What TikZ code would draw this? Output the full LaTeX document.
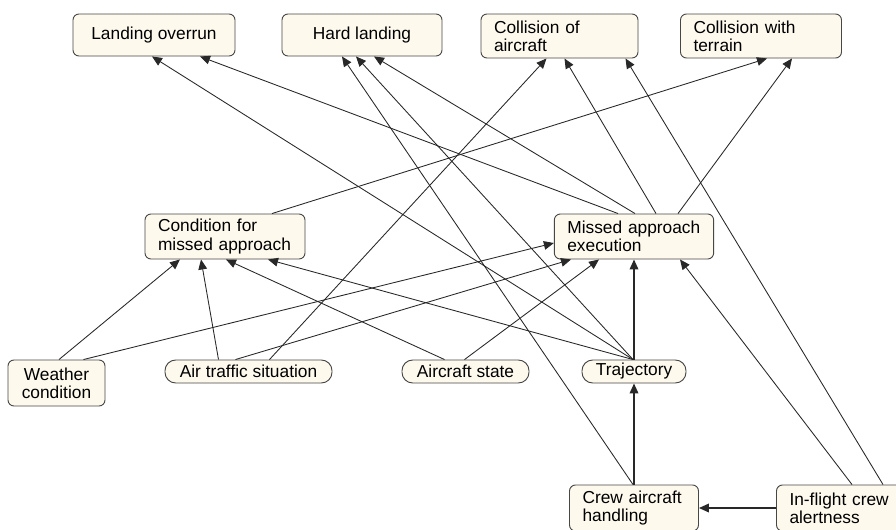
\documentclass[tikz,border=0pt]{standalone}
\usepackage{fontspec}
\setmainfont{Liberation Sans}
\usetikzlibrary{calc}
\usetikzlibrary{arrows.meta}
\definecolor{cream}{RGB}{253,249,237}
\definecolor{wire}{RGB}{40,40,40}
\tikzset{
  box/.style={draw=black!72, line width=0.7pt, fill=cream, rounded corners=4.5pt,
    inner sep=0pt, font=\fontsize{13}{13.7}\selectfont},
  pill/.style={box, rounded corners=8pt, minimum height=17.25pt},
  lbox/.style={box, align=left, inner xsep=9.75pt},
  link/.style={draw=wire, line width=0.65pt, -{Triangle[length=7.5pt,width=6.5pt]}},
  flow/.style={link, line width=1.1pt}
}
\newcommand{\conn}[4]{\draw[link] ($(#1)+(#2)$) -- ($(#3)+(#4)$);}

\begin{document}
\begin{tikzpicture}[x=0.75pt, y=-0.75pt]
        \clip (0,0) rectangle (896,529);
        % outcomes
        \node[box, minimum width=121.5pt, minimum height=31.5pt] (lo) at (154,35) {Landing overrun};
        \node[box, minimum width=120pt, minimum height=31.5pt] (hl) at (362,35) {Hard landing};
        \node[lbox, text width=98.25pt, minimum height=33pt] (ca) at (559.5,36) {Collision of\\aircraft};
        \node[lbox, text width=101.25pt, minimum height=33pt] (ct) at (761,36) {Collision with\\terrain};
        % missed approach
        \node[lbox, text width=100.5pt, minimum height=33.75pt] (cma) at (225,236.5) {Condition for\\missed approach};
        \node[lbox, text width=100pt, minimum height=33.75pt] (mae) at (634,236.5) {Missed approach\\execution};
        % factors
        \node[box, align=center, minimum width=72.75pt, minimum height=34.5pt] (wc) at (56.5,383) {Weather\\condition};
        \node[pill, minimum width=125.25pt] (ats) at (248.5,371.5) {Air traffic situation};
        \node[pill, minimum width=95.25pt] (as) at (465.5,371.5) {Aircraft state};
        \node[pill, minimum width=78pt] (tr) at (634,371.5) {Trajectory};
        % crew
        \node[lbox, text width=77.25pt, minimum height=34.5pt] (cah) at (634,508) {Crew aircraft\\handling};
        \node[lbox, text width=75.75pt, minimum height=34.5pt] (ifc) at (840,508) {In-flight crew\\alertness};
        % into the outcomes
        \conn{tr.north}{-1,0}{lo.south}{-2,0}
        \conn{mae.north}{-16,0}{lo.south}{46,0}
        \conn{cah.north}{-1,0}{hl.south}{-20,0}
        \conn{tr.north}{-1,0}{hl.south}{-6,0}
        \conn{mae.north}{1,0}{hl.south}{12,0}
        \conn{ats.north}{21,0}{ca.south}{-13,0}
        \conn{mae.north}{22,0}{ca.south}{5,0}
        \conn{ifc.north}{43,0}{ca.south}{66,0}
        \conn{cma.north}{47,0}{ct.south}{6,0}
        \conn{mae.north}{44,0}{ct.south}{31,0}
        % into condition for missed approach
        \conn{wc.north}{2.5,0}{cma.south}{-45,0}
        \conn{ats.north}{-30,0}{cma.south}{-24,0}
        \conn{as.north}{-21,0}{cma.south}{1,0}
        \conn{tr.north}{-1,0}{cma.south}{43,0}
        % into missed approach execution
        \conn{wc.north}{27,0}{mae.west}{0,6.5}
        \conn{ats.north}{-13,0}{mae.south}{-63,0}
        \conn{as.north}{-1,0}{mae.south}{-35,0}
        \conn{ifc.north}{12,0}{mae.south}{46,0}
        \draw[flow] (tr.north) -- (mae.south);
        % crew
        \draw[flow] (cah.north) -- (tr.south);
        \draw[flow] (ifc.west) -- (cah.east);
\end{tikzpicture}
\end{document}
